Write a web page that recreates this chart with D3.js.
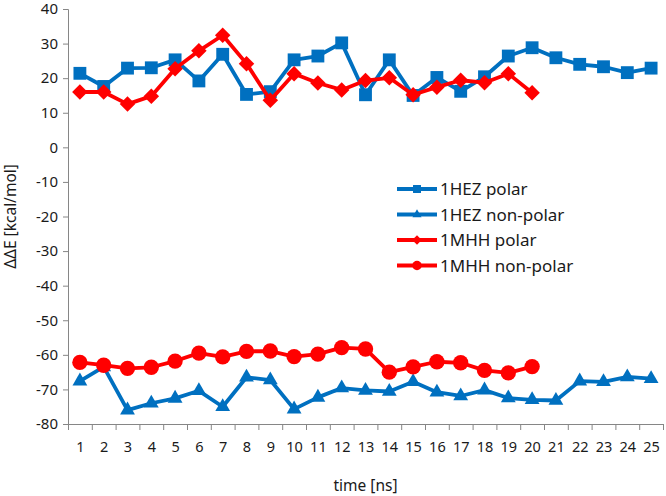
<!DOCTYPE html>
<html lang="en">
<head>
    <meta charset="UTF-8">
    <title>ddE vs time</title>
    <script src="https://d3js.org/d3.v7.min.js"></script>
    <style>
        body { margin: 0; background: #fff; }
        text { font-family: "Noto Sans", "Open Sans", sans-serif; fill: #1a1a1a; }
        .axis path, .axis line { stroke: #868686; }
    </style>
</head>
<body>
    <svg id="chart" width="666" height="496"></svg>
    <script>
        // values
        const times = d3.range(1, 26);
        const hezPolar = [21.4, 17.6, 22.9, 23.0, 25.3, 19.2, 26.9, 15.3, 16.1, 25.3, 26.4, 30.2,
                          15.2, 25.3, 15.0, 20.2, 16.2, 20.4, 26.4, 28.8, 25.9, 24.0, 23.3, 21.6, 22.9];
        const hezNonPolar = [-67.6, -63.5, -76.0, -74.0, -72.6, -70.4, -75.0, -66.5, -67.3, -75.7, -72.3, -69.6,
                             -70.3, -70.6, -67.8, -70.8, -71.9, -70.2, -72.5, -73.0, -73.2, -67.6, -67.8, -66.4, -66.9];
        const mhhPolar = [16.0, 16.0, 12.5, 14.8, 22.7, 27.9, 32.4, 24.2, 13.6, 21.3, 18.6, 16.6,
                          19.3, 20.1, 15.2, 17.4, 19.4, 18.7, 21.3, 15.8];
        const mhhNonPolar = [-62.2, -63.0, -63.9, -63.6, -61.8, -59.5, -60.6, -59.0, -58.9, -60.5, -59.8, -57.9,
                             -58.3, -65.0, -63.5, -62.0, -62.3, -64.5, -65.2, -63.4];

        const series = [
            { name: '1HEZ polar', values: hezPolar, color: '#0070C0', shape: 'square' },
            { name: '1HEZ non-polar', values: hezNonPolar, color: '#0070C0', shape: 'triangle' },
            { name: '1MHH polar', values: mhhPolar, color: '#FF0000', shape: 'diamond' },
            { name: '1MHH non-polar', values: mhhNonPolar, color: '#FF0000', shape: 'circle' }
        ];

        const svg = d3.select('#chart');
        const plotLeft = 68, plotRight = 663, plotTop = 9, plotBottom = 424;

        const x = d3.scaleLinear().domain([0.5, 25.5]).range([plotLeft, plotRight]);
        const y = d3.scaleLinear().domain([-80, 40]).range([plotBottom, plotTop]);

        // marker paths (big for plot, small for legend)
        function marker(shape, k) {
            if (shape === 'square') return d3.symbol(d3.symbolSquare, 165 * k * k)();
            if (shape === 'triangle') return d3.symbol(d3.symbolTriangle, 95 * k * k)();
            if (shape === 'circle') return d3.symbol(d3.symbolCircle, 185 * k * k)();
            return d3.symbol(d3.symbolSquare, 120 * k * k)();
        }

        // axes
        const yAxis = svg.append('g').attr('class', 'axis')
            .attr('transform', `translate(${plotLeft},0)`)
            .call(d3.axisLeft(y).tickValues(d3.range(-80, 41, 10)).tickSize(5).tickPadding(5)
                .tickFormat(d => String(d)));
        yAxis.selectAll('text').style('font-size', '15px');

        svg.append('g').attr('class', 'axis')
            .attr('transform', `translate(0,${plotBottom})`)
            .call(d3.axisBottom(x).tickValues(d3.range(0.5, 25.6, 1)).tickSize(6).tickFormat(''));

        const xLabels = svg.append('g').attr('class', 'axis')
            .attr('transform', `translate(0,${plotBottom})`)
            .call(d3.axisBottom(x).tickValues(times).tickSize(0).tickPadding(18).tickFormat(d3.format('d')));
        xLabels.select('.domain').remove();
        xLabels.selectAll('text').style('font-size', '14.5px');

        svg.append('text')
            .attr('x', (plotLeft + plotRight) / 2).attr('y', 491)
            .attr('text-anchor', 'middle').style('font-size', '15.5px')
            .text('time [ns]');

        svg.append('text')
            .attr('transform', `translate(16,${(plotTop + plotBottom) / 2}) rotate(-90)`)
            .attr('text-anchor', 'middle').style('font-size', '15.5px')
            .text('ΔΔE [kcal/mol]');

        // lines and markers
        const line = d3.line().x((d, i) => x(i + 1)).y(d => y(d));
        series.forEach(s => {
            svg.append('path')
                .attr('d', line(s.values))
                .attr('fill', 'none')
                .attr('stroke', s.color)
                .attr('stroke-width', 3.8)
                .attr('stroke-linejoin', 'round');
            svg.append('g').selectAll('path')
                .data(s.values)
                .join('path')
                .attr('d', marker(s.shape, 1))
                .attr('transform', (d, i) => `translate(${x(i + 1)},${y(d)})` + (s.shape === 'diamond' ? ' rotate(45)' : ''))
                .attr('fill', s.color);
        });

        // legend
        const legend = svg.append('g').attr('transform', 'translate(397,189)');
        series.forEach((s, i) => {
            const g = legend.append('g').attr('transform', `translate(0,${i * 25.5})`);
            g.append('line').attr('x1', 0).attr('x2', 40)
                .attr('stroke', s.color).attr('stroke-width', 3.8);
            g.append('path')
                .attr('d', marker(s.shape, 0.62))
                .attr('transform', 'translate(20,0)' + (s.shape === 'diamond' ? ' rotate(45)' : ''))
                .attr('fill', s.color);
            g.append('text').attr('x', 43).attr('y', 6)
                .style('font-size', '17px')
                .text(s.name);
        });
    </script>
</body>
</html>
